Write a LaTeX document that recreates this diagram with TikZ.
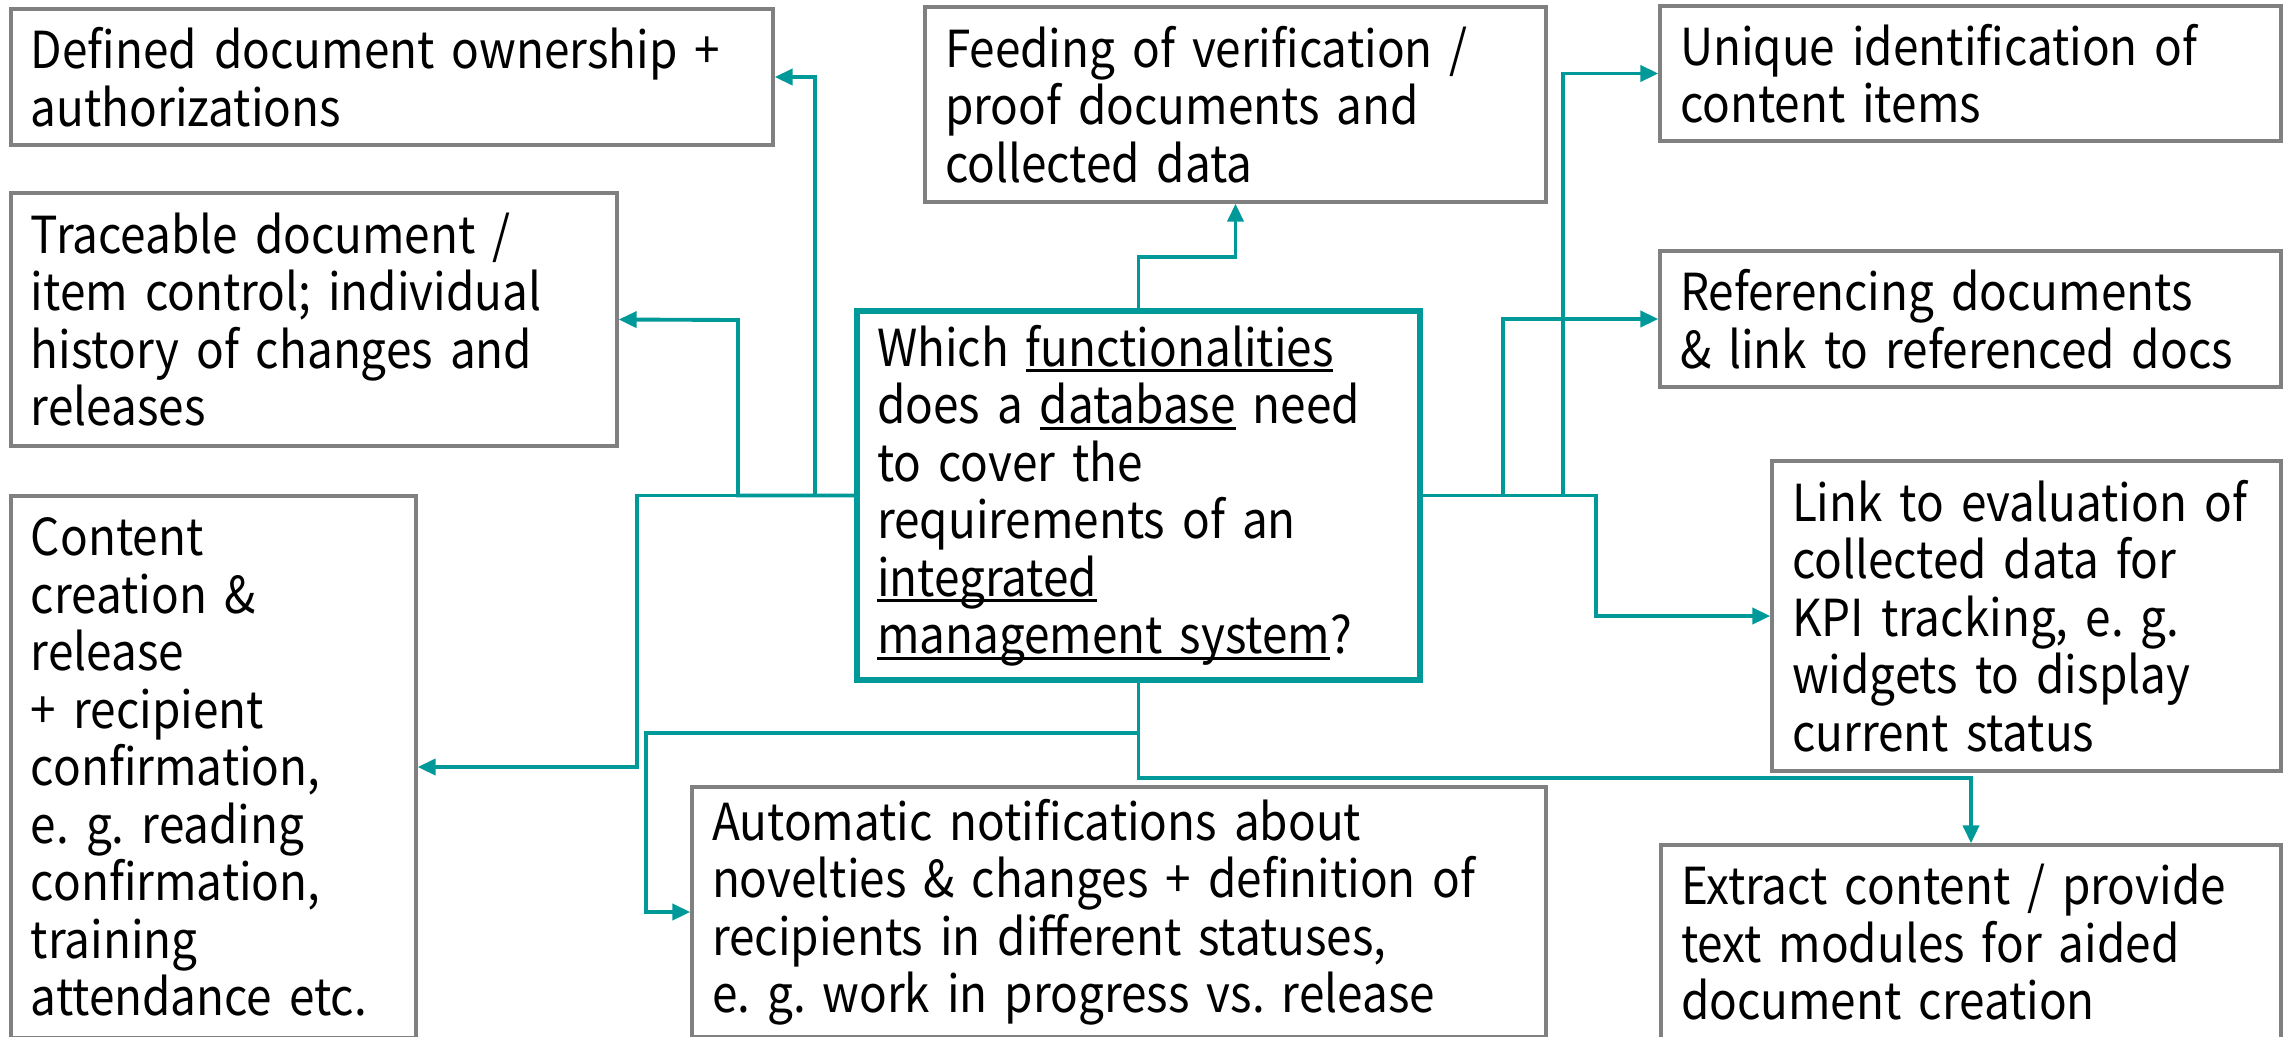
\documentclass[tikz,border=0pt]{standalone}
\usepackage{fontspec}
\setmainfont{Noto Sans CJK JP}[FakeStretch=0.9]
\usetikzlibrary{arrows.meta}
\definecolor{teal2}{RGB}{0,153,153}
\definecolor{boxgray}{RGB}{128,128,128}
\newsavebox\myulbox
\newcommand\myul[1]{\leavevmode\hbox{\sbox\myulbox{#1}\rlap{\rule[-0.12em]{\wd\myulbox}{0.06em}}\usebox\myulbox}}
\newcommand\boxfont{\fontsize{14.5pt}{16.36pt}\selectfont\frenchspacing\hyphenpenalty 10000 \exhyphenpenalty 10000 }
\begin{document}
\begin{tikzpicture}[
  box/.style={draw=boxgray, line width=0.95pt, rectangle, align=left, inner xsep=0.2cm, inner ysep=0pt,
    font=\boxfont},
  mainbox/.style={box, draw=teal2, line width=1.6pt},
  conn/.style={draw=teal2, line width=1.1pt, -{Triangle[length=0.18cm,width=0.16cm]}}
]
\useasboundingbox (0,0) rectangle (22.9,-10.36);
\clip (0,0) rectangle (22.9,-10.36);

\node[box, minimum width=7.62cm, minimum height=1.36cm, text width=7.22cm] (A) at (3.92,-0.77)
  {Defined document ownership +\\authorizations};
\node[box, minimum width=6.06cm, minimum height=2.53cm, text width=5.66cm] (B) at (3.14,-3.195)
  {Traceable document /\\item control; individual\\history of changes and\\releases};
\node[box, minimum width=4.05cm, minimum height=5.42cm, text width=3.65cm] (C) at (2.135,-7.67)
  {Content\\creation \&\\release\\+ recipient\\confirmation,\\e. g. reading\\confirmation,\\training\\attendance etc.};
\node[box, minimum width=6.21cm, minimum height=1.95cm, text width=5.81cm] (D) at (12.355,-1.045)
  {Feeding of verification /\\proof documents and\\collected data};
\node[mainbox, minimum width=5.63cm, minimum height=3.69cm, text width=5.23cm] (E) at (11.385,-4.955)
  {Which \myul{functionalities}\\does a \myul{database} need\\to cover the\\requirements of an\\\myul{integrated}\\\myul{management system}?};
\node[box, minimum width=6.21cm, minimum height=1.35cm, text width=5.81cm] (F) at (19.705,-0.735)
  {Unique identification of\\content items};
\node[box, minimum width=6.21cm, minimum height=1.36cm, text width=5.81cm] (G) at (19.705,-3.19)
  {Referencing documents\\\& link to referenced docs};
\node[box, minimum width=5.09cm, minimum height=3.10cm, text width=4.69cm] (H) at (20.265,-6.16)
  {Link to evaluation of\\collected data for\\KPI tracking, e. g.\\widgets to display\\current status};
\node[box, minimum width=8.54cm, minimum height=2.50cm, text width=8.14cm] (I) at (11.19,-9.12)
  {Automatic notifications about\\novelties \& changes + definition of\\recipients in different statuses,\\e. g. work in progress vs. release};
\node[box, minimum width=6.20cm, minimum height=1.95cm, text width=5.80cm] (J) at (19.71,-9.425)
  {Extract content / provide\\text modules for aided\\document creation};

\coordinate (jA) at (8.15,-0.77);
\coordinate (jB) at (7.38,-3.20);
\coordinate (jC) at (6.37,-7.67);
\coordinate (jD) at (11.385,-2.57);
\coordinate (jF) at (15.63,-0.735);
\coordinate (jG) at (15.03,-3.19);
\coordinate (jH) at (15.96,-6.16);
\coordinate (jI) at (6.46,-7.33);
\coordinate (jJ) at (11.385,-7.78);

\draw[conn] (E.west) -| (jA) -- (A.east);
\draw[conn] (E.west) -| (jB) -- (B.east);
\draw[conn] (E.west) -| (jC) -- (C.east);
\draw[conn] (E.north) -- (jD) -| (D.south);
\draw[conn] (E.east) -| (jF) -- (F.west);
\draw[conn] (E.east) -| (jG) -- (G.west);
\draw[conn] (E.east) -| (jH) -- (H.west);
\draw[conn] (E.south) |- (jI) |- (I.west);
\draw[conn] (E.south) -- (jJ) -| (J.north);
\end{tikzpicture}
\end{document}
